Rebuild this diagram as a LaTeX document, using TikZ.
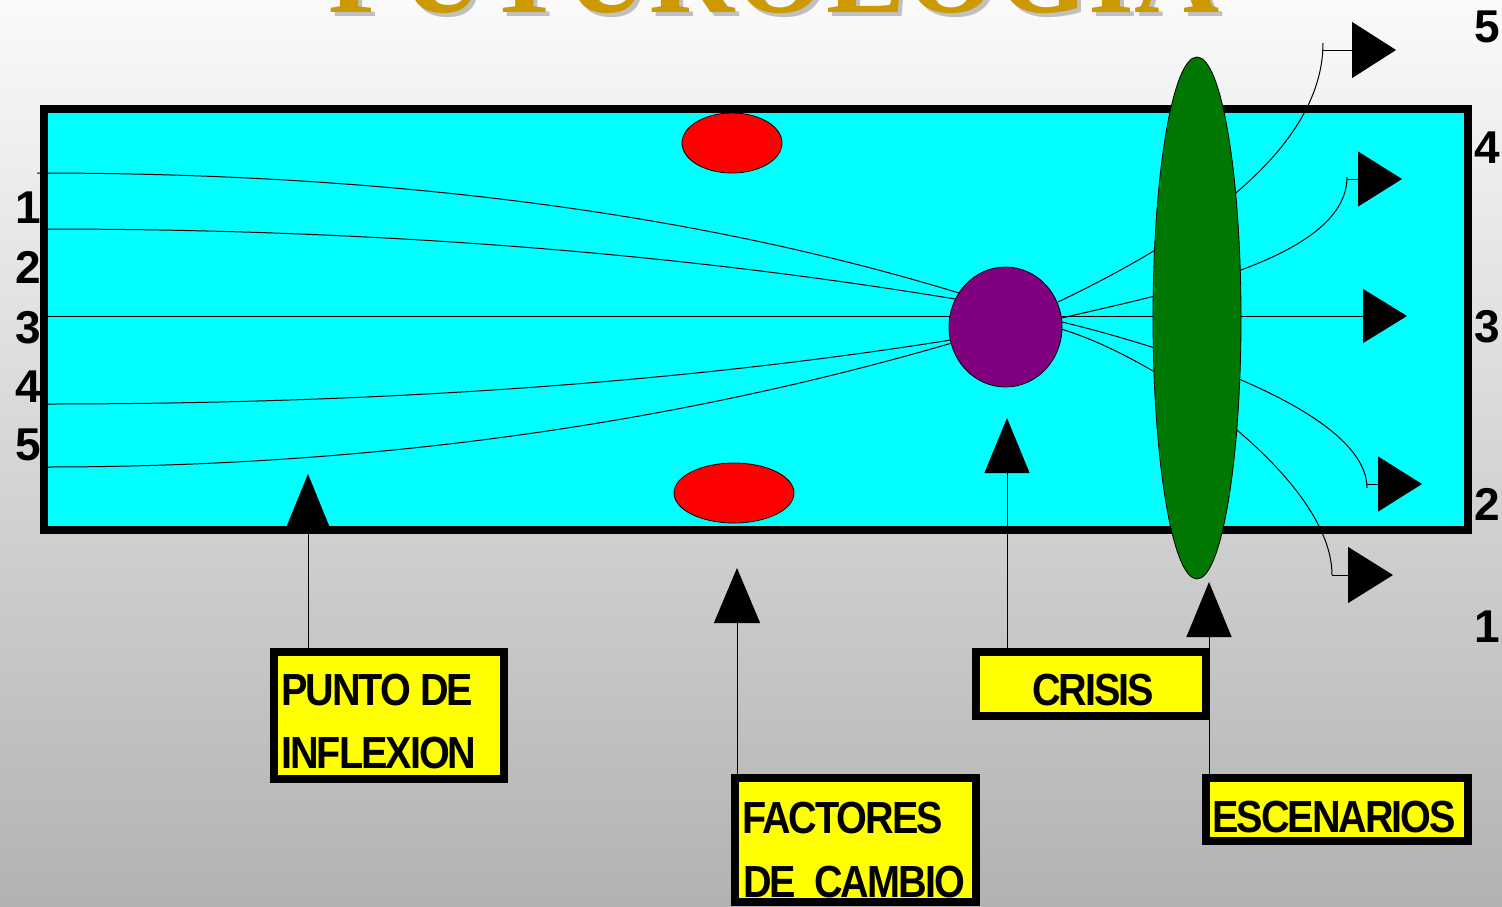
\documentclass[tikz,border=0pt]{standalone}
\usepackage{fontspec}
\setmainfont{Liberation Sans}
\newfontfamily\lblfont{Liberation Sans}[FakeStretch=0.88,LetterSpace=-4.4]
\newfontfamily\titlefont{Liberation Serif}
\usetikzlibrary{arrows.meta,shapes.geometric}

\definecolor{bgtop}{RGB}{250,250,250}
\definecolor{bgbot}{RGB}{178,178,178}
\definecolor{titlegold}{RGB}{204,153,0}
\definecolor{titleshadow}{RGB}{192,192,192}
\definecolor{fieldcyan}{RGB}{0,255,255}
\definecolor{factorred}{RGB}{255,0,0}
\definecolor{crisispurple}{RGB}{128,0,128}
\definecolor{lensgreen}{RGB}{0,119,0}
\definecolor{labelyellow}{RGB}{255,255,0}

\tikzset{
  trend/.style={black, line width=1pt},
  blob/.style={ellipse, draw=black, line width=0.8pt, inner sep=0pt},
  labelbox/.style={draw=black, line width=8pt, fill=labelyellow, inner sep=0pt},
  labeltext/.style={anchor=base west, inner sep=0pt, font=\lblfont\bfseries\fontsize{45}{45}\selectfont},
  digit/.style={anchor=base, inner sep=0pt, font=\bfseries\fontsize{46}{46}\selectfont},
  pointer/.style={black, line width=1pt, -{Triangle[length=55pt,width=45pt]}},
  outarrow/.style={black, line width=1pt, -{Triangle[length=44pt,width=55pt]}},
}

\begin{document}
\begin{tikzpicture}[x=1pt,y=-1pt]
  \useasboundingbox (0,0) rectangle (1502,906);
  \clip (0,0) rectangle (1502,906);
  \shade[top color=bgtop, bottom color=bgbot] (0,0) rectangle (1502,906);

  % title, mostly above the page edge
  \node[anchor=base, inner sep=0pt, text=titleshadow,
        font=\titlefont\bfseries\fontsize{118}{118}\selectfont] (titleshadow) at (778,16) {FUTUROLOGIA};
  \node[anchor=base, inner sep=0pt, text=titlegold,
        font=\titlefont\bfseries\fontsize{118}{118}\selectfont] (title) at (774,12) {FUTUROLOGIA};

  % the field of trends
  \node[draw=black, line width=8pt, fill=fieldcyan, inner sep=0pt,
        minimum width=1424pt, minimum height=421pt] (field) at (756,319.5) {};

  % arrow tip points
  \coordinate (tip5) at (1396,50);
  \coordinate (tip4) at (1402,179);
  \coordinate (tip3) at (1407,316);
  \coordinate (tip2) at (1422,484);
  \coordinate (tip1) at (1393,575);

  % trends converging into the crisis
  \draw[trend] (37,173) .. controls (390,173) and (697,213) .. (959,293);
  \draw[trend] (44,229) .. controls (367,229) and (670,252) .. (955,299);
  \draw[trend] (44,404) .. controls (377,404) and (679,383) .. (951,340);
  \draw[trend] (44,467) .. controls (364,467) and (667,426) .. (952,343);
  \draw[outarrow, -{Triangle[length=44pt,width=54pt]}] (44,316) -- (tip3);

  % scenarios fanning out
  \draw[trend] (1058,302) .. controls (1158,254) and (1323,163) .. (1323,43);
  \draw[outarrow, -{Triangle[length=44pt,width=56pt]}] (1323,50) -- (tip5);
  \draw[trend] (1062,318) .. controls (1162,294) and (1347,260) .. (1347,177);
  \draw[outarrow] (1347,179) -- (tip4);
  \draw[trend] (1062,322) .. controls (1162,346) and (1367,410) .. (1367,488);
  \draw[outarrow] (1367,484) -- (tip2);
  \draw[trend] (1061,329) .. controls (1161,359) and (1332,480) .. (1332,575);
  \draw[outarrow, -{Triangle[length=45pt,width=56pt]}] (1332,575) -- (tip1);

  % shapes
  \node[blob, fill=factorred, minimum width=100pt, minimum height=60pt] (factorA) at (732,143) {};
  \node[blob, fill=factorred, minimum width=120pt, minimum height=60pt] (factorB) at (734,493) {};
  \node[blob, fill=crisispurple, minimum width=113pt, minimum height=120pt] (crisisball) at (1005.5,327) {};
  \node[blob, fill=lensgreen, minimum width=88pt, minimum height=522pt] (lens) at (1197,318) {};

  % scale numbers
  \node[digit] (l1) at (28.5,223) {1};
  \node[digit] (l2) at (28.5,283) {2};
  \node[digit] (l3) at (28.5,343) {3};
  \node[digit] (l4) at (28.5,402) {4};
  \node[digit] (l5) at (28.5,460) {5};
  \node[digit] (r5) at (1487,42) {5};
  \node[digit] (r4) at (1487,163) {4};
  \node[digit] (r3) at (1487,342) {3};
  \node[digit] (r2) at (1487,520) {2};
  \node[digit] (r1) at (1487,642) {1};

  % label boxes
  \node[labelbox, minimum width=230pt, minimum height=127pt] (punto) at (389,715.5) {};
  \node[labelbox, minimum width=241pt, minimum height=124pt] (factores) at (855.5,840) {};
  \node[labelbox, minimum width=230pt, minimum height=64pt] (crisis) at (1091,684) {};
  \node[labelbox, minimum width=262pt, minimum height=63pt] (escenarios) at (1337,809.5) {};

  \node[labeltext] (puntoA) at (281,705) {PUNTO DE};
  \node[labeltext] (puntoB) at (281,768) {INFLEXION};
  \node[labeltext] (factoresA) at (742,833) {FACTORES};
  \node[labeltext] (factoresB) at (743,897) {DE\ \ CAMBIO};
  \node[labeltext] (crisisT) at (1032,705) {CRISIS};
  \node[labeltext] (escenariosT) at (1212,832) {ESCENARIOS};

  % pointers from labels
  \coordinate (ptP) at (308,474);
  \coordinate (ptF) at (737,568);
  \coordinate (ptC) at (1007,418);
  \coordinate (ptE) at (1209,582);
  \draw[pointer, -{Triangle[length=53pt,width=43pt]}] (ptP |- punto.north) -- (ptP);
  \draw[pointer, -{Triangle[length=55pt,width=46pt]}] (ptF |- factores.north) -- (ptF);
  \draw[pointer] (ptC |- crisis.north) -- (ptC);
  \draw[pointer] (ptE |- escenarios.north) -- (ptE);
\end{tikzpicture}
\end{document}
